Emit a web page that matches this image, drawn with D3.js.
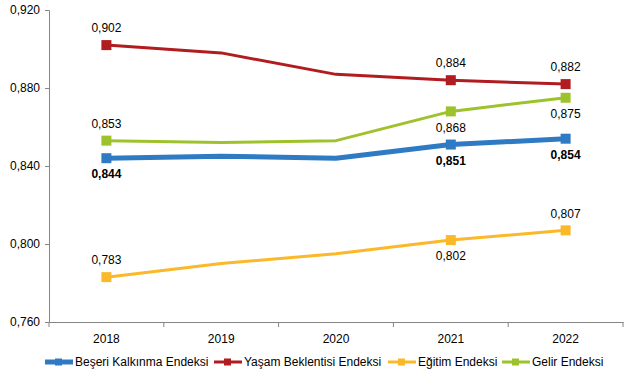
<!DOCTYPE html>
<html>
<head>
<meta charset="utf-8">
<script src="https://d3js.org/d3.v7.min.js"></script>
<style>
  body { margin: 0; background: #fff; }
  svg { display: block; font-family: "Liberation Sans", Arial, sans-serif; }
</style>
</head>
<body>
<svg id="chart"></svg>
<script>
// data
const years = ['2018', '2019', '2020', '2021', '2022'];
const yTicks = [0.760, 0.800, 0.840, 0.880, 0.920];

const seriesNames = ['Beşeri Kalkınma Endeksi', 'Yaşam Beklentisi Endeksi', 'Eğitim Endeksi', 'Gelir Endeksi'];
const hdiValues = [0.844, 0.845, 0.844, 0.851, 0.854];
const lifeValues = [0.902, 0.898, 0.887, 0.884, 0.882];
const eduValues = [0.783, 0.790, 0.795, 0.802, 0.807];
const incomeValues = [0.853, 0.852, 0.853, 0.868, 0.875];

// which points carry a label, and where ('a' above, 'b' below, null none)
const hdiLabels = ['b', null, null, 'b', 'b'];
const lifeLabels = ['a', null, null, 'a', 'a'];
const eduLabels = ['a', null, null, 'b', 'a'];
const incomeLabels = ['a', null, null, 'b', 'b'];

const config = {
    width: 635,
    height: 376,
    margin: { top: 10, right: 12, bottom: 54, left: 49 }
};

const series = [
    { name: seriesNames[1], values: lifeValues, labels: lifeLabels, color: '#B01C20', width: 3, bold: false },
    { name: seriesNames[3], values: incomeValues, labels: incomeLabels, color: '#9DC22C', width: 3, bold: false },
    { name: seriesNames[2], values: eduValues, labels: eduLabels, color: '#FBB829', width: 3, bold: false },
    { name: seriesNames[0], values: hdiValues, labels: hdiLabels, color: '#2E7BC4', width: 5, bold: true }
];

const svg = d3.select('#chart')
    .attr('width', config.width)
    .attr('height', config.height);

const innerW = config.width - config.margin.left - config.margin.right;
const innerH = config.height - config.margin.top - config.margin.bottom;

const chart = svg.append('g')
    .attr('transform', `translate(${config.margin.left},${config.margin.top})`);

const x = d3.scaleBand().domain(years).range([0, innerW]);
const y = d3.scaleLinear().domain([0.760, 0.920]).range([innerH, 0]);
const fmt = v => d3.format('.3f')(v).replace('.', ',');

// y axis
const yAxis = chart.append('g')
    .call(d3.axisLeft(y).tickValues(yTicks).tickFormat(fmt).tickSize(4).tickPadding(5));
yAxis.select('.domain').attr('stroke', '#868686');
yAxis.selectAll('.tick line').attr('stroke', '#868686');
yAxis.selectAll('.tick text').attr('font-size', 12).attr('fill', '#000');

// x axis: ticks on the band edges
const xAxis = chart.append('g')
    .attr('transform', `translate(0,${innerH})`)
    .call(d3.axisBottom(x).tickSize(0).tickPadding(12));
xAxis.select('.domain').attr('stroke', '#868686');
xAxis.selectAll('.tick text').attr('font-size', 12).attr('fill', '#000');
chart.append('g')
    .selectAll('line')
    .data(years.concat(['end']))
    .join('line')
    .attr('x1', (d, i) => i * x.bandwidth())
    .attr('x2', (d, i) => i * x.bandwidth())
    .attr('y1', innerH)
    .attr('y2', innerH + 5)
    .attr('stroke', '#868686');

const cx = d => x(d) + x.bandwidth() / 2;
const line = d3.line()
    .x((d, i) => cx(years[i]))
    .y(d => y(d));

series.forEach(s => {
    const g = chart.append('g');
    g.append('path')
        .datum(s.values)
        .attr('d', line)
        .attr('fill', 'none')
        .attr('stroke', s.color)
        .attr('stroke-width', s.width)
        .attr('stroke-linejoin', 'round');

    const marked = s.values.map((v, i) => ({ v, i, pos: s.labels[i] })).filter(d => d.pos);

    g.selectAll('rect')
        .data(marked)
        .join('rect')
        .attr('x', d => cx(years[d.i]) - 5)
        .attr('y', d => y(d.v) - 5)
        .attr('width', 10)
        .attr('height', 10)
        .attr('fill', s.color);

    g.selectAll('text')
        .data(marked)
        .join('text')
        .attr('x', d => cx(years[d.i]))
        .attr('y', d => y(d.v) + (d.pos === 'a' ? -17 : 16))
        .attr('dy', '0.35em')
        .attr('text-anchor', 'middle')
        .attr('font-size', 12)
        .attr('font-weight', s.bold ? 'bold' : 'normal')
        .attr('fill', '#000')
        .text(d => fmt(d.v));
});

// legend
const legendItems = [
    { name: seriesNames[0], color: '#2E7BC4', width: 5, x: 45 },
    { name: seriesNames[1], color: '#B01C20', width: 3, x: 214 },
    { name: seriesNames[2], color: '#FBB829', width: 3, x: 388 },
    { name: seriesNames[3], color: '#9DC22C', width: 3, x: 502 }
];
const legend = svg.append('g').attr('transform', 'translate(0,362)');
const li = legend.selectAll('g')
    .data(legendItems)
    .join('g')
    .attr('transform', d => `translate(${d.x},0)`);
li.append('line')
    .attr('x1', 0).attr('x2', 28)
    .attr('stroke', d => d.color)
    .attr('stroke-width', d => d.width);
li.append('rect')
    .attr('x', 10).attr('y', -3.5)
    .attr('width', 7).attr('height', 7)
    .attr('fill', d => d.color);
li.append('text')
    .attr('x', 30)
    .attr('dy', '0.35em')
    .attr('font-size', 12)
    .attr('fill', '#000')
    .text(d => d.name);
</script>
</body>
</html>
